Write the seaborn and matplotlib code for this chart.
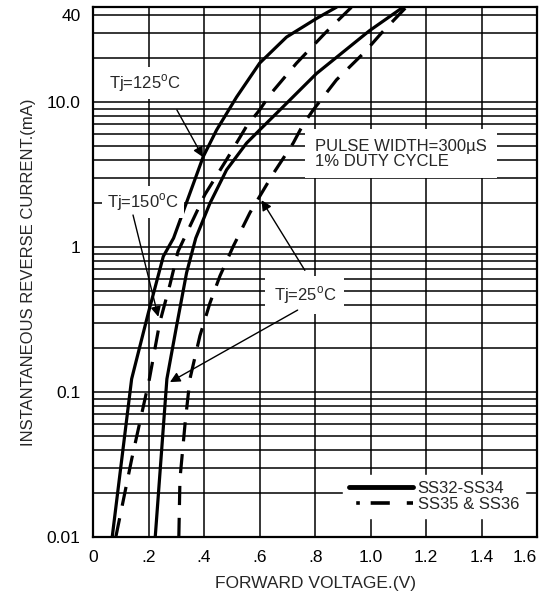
import numpy as np
import pandas as pd
import matplotlib
matplotlib.use("Agg")
import matplotlib.pyplot as plt
import matplotlib.ticker as mticker
from matplotlib.lines import Line2D
import seaborn as sns

# forward voltage (V) / reverse current (mA)
v_125_ss34 = [0.069, 0.139, 0.199, 0.253, 0.29, 0.397, 0.445, 0.517, 0.60, 0.697, 0.805, 0.877]
i_125_ss34 = [0.01, 0.123, 0.35, 0.86, 1.15, 4.2, 6.4, 10.8, 18.5, 28, 37.6, 45]

v_150_ss36 = [0.082, 0.14, 0.203, 0.24, 0.277, 0.306, 0.349, 0.403, 0.481, 0.553, 0.60, 0.637, 0.733, 0.835, 0.931]
i_150_ss36 = [0.01, 0.035, 0.123, 0.30, 0.55, 0.93, 1.39, 2.3, 4.0, 6.8, 8.8, 11.2, 18.5, 29.7, 45]

v_25_ss34 = [0.224, 0.266, 0.301, 0.337, 0.37, 0.421, 0.481, 0.553, 0.60, 0.673, 0.805, 0.996, 1.117]
i_25_ss34 = [0.01, 0.123, 0.286, 0.665, 1.15, 2.0, 3.4, 5.2, 6.4, 8.8, 15.7, 31, 45]

v_25_ss36 = [0.309, 0.313, 0.332, 0.349, 0.385, 0.421, 0.457, 0.505, 0.565, 0.649, 0.721, 0.756, 0.793, 0.877, 0.978, 1.038, 1.128]
i_25_ss36 = [0.01, 0.025, 0.062, 0.123, 0.244, 0.41, 0.63, 1.01, 1.72, 3.2, 5.2, 6.95, 8.8, 14.2, 22, 29.7, 45]

x_ticks = [0, 0.2, 0.4, 0.6, 0.8, 1.0, 1.2, 1.4, 1.6]
x_labels = ["0", ".2", ".4", ".6", ".8", "1.0", "1.2", "1.4", "1.6"]
y_ticks = [0.01, 0.1, 1, 10, 40]
y_labels = ["0.01", "0.1", "1", "10.0", "40"]

series_ss34 = "SS32-SS34"
series_ss36 = "SS35 & SS36"

sns.set_style("white")
plt.rcParams["font.family"] = ["Liberation Sans", "DejaVu Sans"]

fig = plt.figure(figsize=(5.41, 5.98), dpi=100)
ax = fig.add_axes([0.172, 0.102, 0.821, 0.886])

dash = (6, 4)
curves = [
    (v_125_ss34, i_125_ss34, None),
    (v_150_ss36, i_150_ss36, dash),
    (v_25_ss34, i_25_ss34, None),
    (v_25_ss36, i_25_ss36, dash),
]
for v, i, d in curves:
    df = pd.DataFrame({"V": v, "I": i})
    sns.lineplot(data=df, x="V", y="I", ax=ax, color="black", lw=2.3,
                 sort=False, estimator=None, legend=False)
    if d is not None:
        ax.lines[-1].set_dashes(d)

ax.set_yscale("log")
ax.set_xlim(0, 1.6)
ax.set_ylim(0.01, 45)

ax.set_xticks(x_ticks)
ax.set_xticklabels(x_labels)
ax.get_xticklabels()[-1].set_horizontalalignment("right")
ax.yaxis.set_major_locator(mticker.FixedLocator(y_ticks))
ax.yaxis.set_major_formatter(mticker.FixedFormatter(y_labels))
ax.yaxis.set_minor_locator(mticker.LogLocator(base=10, subs=np.arange(2, 10)))
ax.yaxis.set_minor_formatter(mticker.NullFormatter())
ax.tick_params(axis="both", which="both", length=0, labelsize=12.5, colors="black")
ax.tick_params(axis="x", pad=9)
ax.tick_params(axis="y", pad=9)

ax.grid(True, which="major", axis="x", color="black", lw=1.1)
ax.grid(True, which="both", axis="y", color="black", lw=1.1)
for s in ax.spines.values():
    s.set_color("black")
    s.set_linewidth(1.6)

ax.set_xlabel("FORWARD VOLTAGE.(V)", fontsize=12.5, labelpad=8)
ax.set_ylabel("INSTANTANEOUS REVERSE CURRENT.(mA)", fontsize=12, labelpad=8)

box = dict(facecolor="white", edgecolor="none", pad=4)
arrow = dict(arrowstyle="-|>", color="black", lw=1.0, mutation_scale=15, shrinkA=0, shrinkB=0)
deg = r"$^\mathregular{o}$"

ax.text(0.187, 13.5, "Tj=125" + deg + "C", fontsize=12, ha="center", va="center", bbox=box)
ax.annotate("", xy=(0.396, 4.16), xytext=(0.302, 8.8), arrowprops=arrow)

ax.text(0.18, 2.04, "Tj=150" + deg + "C", fontsize=12, ha="center", va="center", bbox=box)
ax.annotate("", xy=(0.235, 0.33), xytext=(0.144, 1.66), arrowprops=arrow)

ax.text(0.763, 0.466, "Tj=25" + deg + "C", fontsize=12, ha="center", va="center",
        bbox=dict(facecolor="white", edgecolor="none", pad=6))
ax.annotate("", xy=(0.607, 2.1), xytext=(0.763, 0.69), arrowprops=arrow)
ax.annotate("", xy=(0.277, 0.117), xytext=(0.737, 0.367), arrowprops=arrow)

ax.text(0.80, 4.4, "PULSE WIDTH=300\u00b5S\n1% DUTY CYCLE", fontsize=12, ha="left", va="center",
        linespacing=1.0, bbox=dict(facecolor="white", edgecolor="none", pad=7))

handles = [
    Line2D([], [], color="black", lw=3.5),
    Line2D([], [], color="black", lw=2.6, linestyle=(19.3, (1, 3, 5.3, 4.7, 5.3, 2))),
]
leg = ax.legend(handles, [series_ss34, series_ss36], loc="lower left",
                bbox_to_anchor=(0.545, 0.02), frameon=True, fancybox=False,
                facecolor="white", edgecolor="white", framealpha=1, fontsize=12,
                handlelength=3.8, handletextpad=0.3, labelspacing=0.1, borderpad=0.35)

fig.savefig("out.png", dpi=100)
